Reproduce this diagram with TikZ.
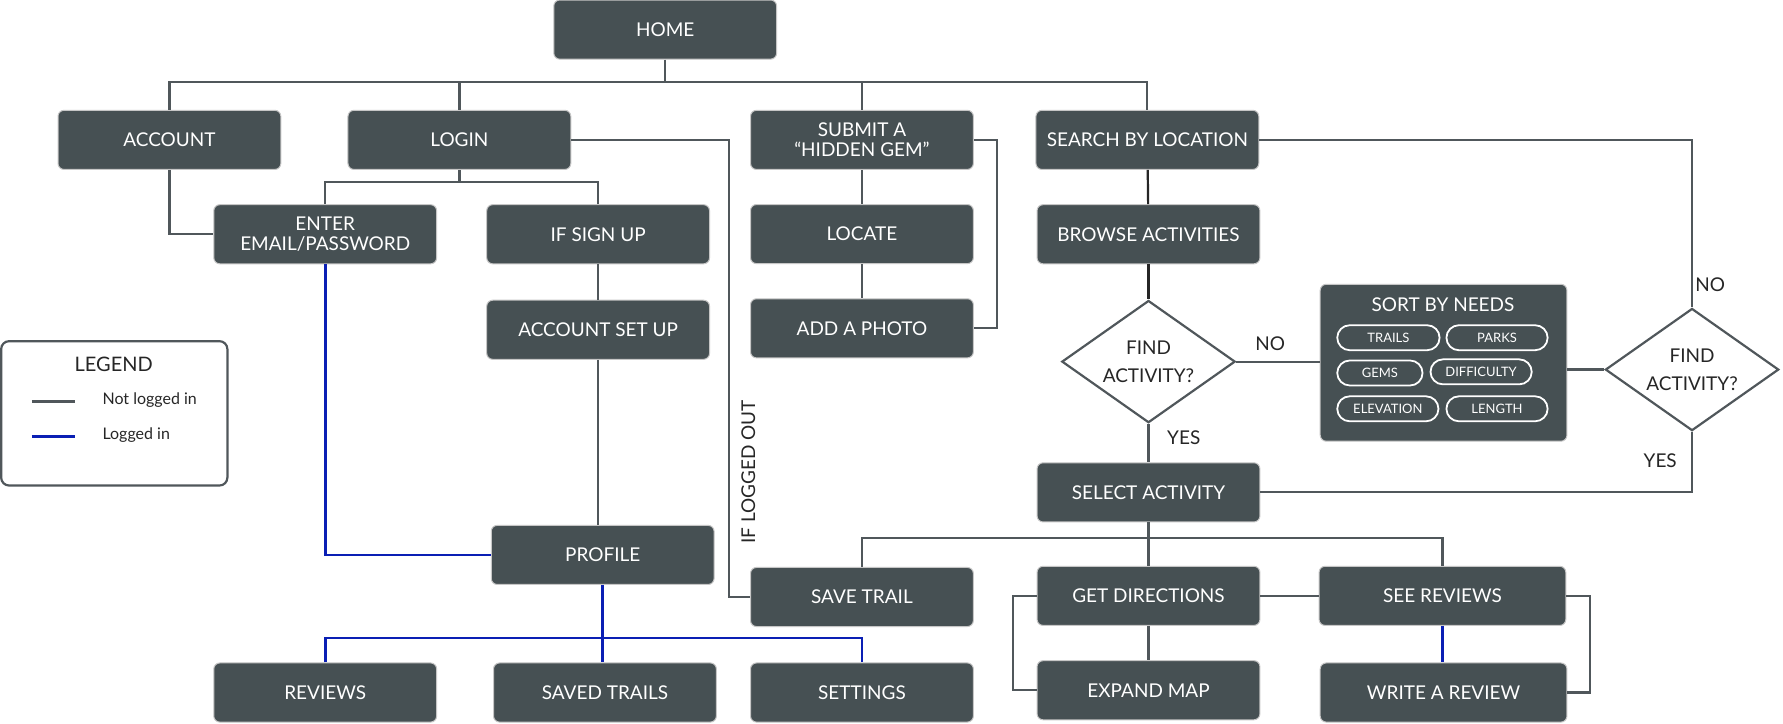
\documentclass[tikz,border=0pt]{standalone}
\usepackage{fontspec}
\setmainfont{Lato}
\usepackage{xcolor}
\usepackage{tikz}
\usetikzlibrary{positioning, shapes.geometric}
\definecolor{slate}{HTML}{465053}
\definecolor{wire}{HTML}{50575B}
\definecolor{logblue}{HTML}{0A1FB4}
\def\fs#1{\fontsize{#1}{#1}\selectfont}

\begin{document}
\begin{tikzpicture}[x=0.02cm, y=-0.02cm,
          box/.style={draw=gray!45, line width=0.5pt, fill=slate, rounded corners=3pt, text=white,
            minimum width=3.92cm, minimum height=1.04cm, inner sep=0pt, align=center,
            font=\fontsize{9.5}{10}\selectfont},
          decision/.style={diamond, aspect=1.4, draw=wire, line width=1.1pt, fill=white,
            minimum width=3.05cm, minimum height=2.15cm, inner sep=0pt, align=center, text=black!85,
            font=\fontsize{9.5}{14}\selectfont},
          pill/.style={draw=white, line width=0.9pt, rounded corners=0.22cm, minimum height=0.44cm,
            inner sep=0pt, text=white, font=\fs{6.5}},
          conn/.style={draw=wire, line width=1.1pt},
          dark/.style={draw=black!85, line width=1.1pt},
          loggedin/.style={draw=logblue, line width=1.3pt},
          lbl/.style={text=black!85, font=\fs{9.5}}]
          \fill[white] (0,0) rectangle (1568,636);
          \useasboundingbox (0,0) rectangle (1568,636);
          \node[box] (home) at (585,26) {HOME};
          \node[box] (account) at (149,123) {ACCOUNT};
          \node[box] (login) at (404,123) {LOGIN};
          \node[box] (submit) at (758,123) {SUBMIT A\\``HIDDEN GEM''};
          \node[box] (search) at (1009,123) {SEARCH BY LOCATION};
          \node[box] (enter) at (286,206) {ENTER\\EMAIL/PASSWORD};
          \node[box] (signup) at (526,206) {IF SIGN UP};
          \node[box, below=0.6cm of submit] (locate) {LOCATE};
          \node[box, below=0.6cm of locate] (photo) {ADD A PHOTO};
          \node[box] (browse) at (1010,206) {BROWSE ACTIVITIES};
          \node[box] (setup) at (526,290) {ACCOUNT SET UP};
          \node[box] (profile) at (530,488) {PROFILE};
          \node[box] (save) at (758,525) {SAVE TRAIL};
          \node[box] (select) at (1010,433) {SELECT ACTIVITY};
          \node[box] (directions) at (1010,524) {GET DIRECTIONS};
          \node[box, minimum width=4.34cm] (seereviews) at (1268.5,524) {SEE REVIEWS};
          \node[box] (expand) at (1010,607) {EXPAND MAP};
          \node[box, minimum width=4.34cm] (write) at (1269.5,609) {WRITE A REVIEW};
          \node[box] (reviews) at (286,609) {REVIEWS};
          \node[box] (saved) at (532,609) {SAVED TRAILS};
          \node[box] (settings) at (758,609) {SETTINGS};
          \node[decision] (find1) at (1010,318) {FIND\\ACTIVITY?};
          \node[decision] (find2) at (1488,325) {FIND\\ACTIVITY?};
          \node[box, minimum width=4.34cm, minimum height=2.76cm] (sortbox) at (1269.5,319) {};
          \node[text=white, font=\fs{9.5}] (sorttitle) at (1269,268) {SORT BY NEEDS};
          \foreach \name/\x/\y/\w in {TRAILS/1221/297/90, PARKS/1316.5/297/89, GEMS/1213.5/328/75,
              DIFFICULTY/1302.5/327/89, ELEVATION/1220.5/359.5/89, LENGTH/1316.5/359.5/89}
            \node[pill, minimum width=\w*0.02cm] (pill-\name) at (\x,\y) {\name};
          \coordinate (hbus) at (585,72);
          \draw[conn] (home.south) -- (hbus);
          \draw[conn] (account.north) |- (hbus);
          \draw[conn] (search.north) |- (hbus);
          \draw[conn] (login.north) -- (login.north |- hbus);
          \draw[conn] (submit.north) -- (submit.north |- hbus);
          \coordinate (lbus) at (404,160);
          \draw[conn] (login.south) -- (lbus);
          \draw[conn] (enter.north) |- (lbus);
          \draw[conn] (signup.north) |- (lbus);
          \draw[conn] (account.south) |- (enter.west);
          \draw[conn] (signup) -- (setup);
          \draw[conn] (setup.south) -- (setup.south |- profile.north);
          \draw[conn] (login.east) -- ++(139,0) |- (save.west);
          \node[lbl, rotate=90] (ifout) at (658,415) {IF LOGGED OUT};
          \draw[loggedin] (enter.south) |- (profile.west);
          \coordinate (pbus) at (530,561);
          \draw[loggedin] (profile.south) -- (profile.south |- saved.north);
          \draw[loggedin] (reviews.north) |- (pbus) -| (settings.north);
          \draw[conn] (submit) -- (locate);
          \draw[conn] (locate) -- (photo);
          \draw[conn] (submit.east) -- ++(20,0) |- (photo.east);
          \draw[dark] (search) -- (browse);
          \draw[dark] (browse) -- (find1);
          \draw[conn] (search.east) -| (find2.north);
          \node[lbl] (no2) at (1504,250) {NO};
          \draw[conn] (find1.east) -- (find1.east -| sortbox.west);
          \node[lbl] (no1) at (1117,302) {NO};
          \draw[conn] (sortbox.east |- find2.west) -- (find2.west);
          \draw[conn] (find1) -- (select);
          \node[lbl] (yes1) at (1041,385) {YES};
          \draw[conn] (find2.south) |- (select.east);
          \node[lbl] (yes2) at (1460,405) {YES};
          \coordinate (sbus) at (1010,473);
          \draw[conn] (select) -- (directions);
          \draw[conn] (save.north) |- (sbus);
          \draw[conn] (seereviews.north) |- (sbus);
          \draw[conn] (directions) -- (expand);
          \draw[conn] (directions) -- (seereviews);
          \draw[conn] (directions.west) -- ++(-21,0) |- (expand.west);
          \draw[loggedin] (seereviews.south) -- (seereviews.south |- write.north);
          \draw[conn] (seereviews.east) -- ++(21,0) |- (write.east);
          \node[draw=wire, line width=1.1pt, fill=white, rounded corners=4pt, minimum width=3.98cm,
            minimum height=2.54cm] (legend) at (100.5,363.5) {};
          \node[text=black!85, font=\fs{10}] (legendtitle) at (100,320) {LEGEND};
          \coordinate (keyA) at (28,353);
          \coordinate (keyB) at (66,353);
          \coordinate (keyC) at (28,384);
          \coordinate (keyD) at (66,384);
          \draw[conn] (keyA) -- (keyB);
          \draw[loggedin, line width=1.8pt] (keyC) -- (keyD);
          \node[anchor=west, text=black!85, font=\fs{8}] (keynot) at (84,352) {Not logged in};
          \node[anchor=west, text=black!85, font=\fs{8}] (keyin) at (84,383) {Logged in};
        \end{tikzpicture}
\end{document}
